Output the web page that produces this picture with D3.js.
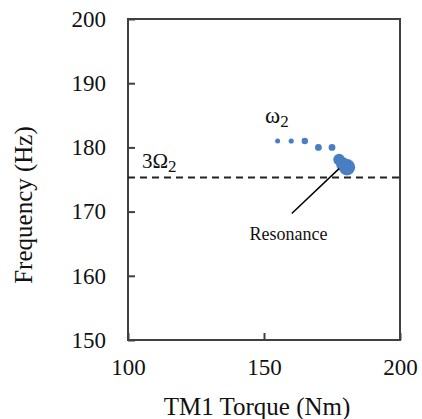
<!DOCTYPE html>
<html><head><meta charset="utf-8">
<script src="https://cdn.jsdelivr.net/npm/d3@7"></script>
<style>body{margin:0;background:#fff}svg{display:block}svg text{font-family:"Liberation Serif","DejaVu Serif",serif !important}</style>
</head><body>
<svg id="c" width="422" height="419"></svg>
<script>
const torque = [155, 160, 165, 170, 175, 177.6, 179, 180.5];
const freq = [181, 181, 181, 180, 180, 178.1, 177.4, 176.9];
const sizes = [2.5, 2.6, 3.2, 3.4, 3.4, 5.8, 6.8, 8.2];
const resonanceLine = 175.3;
const xTicks = [100, 150, 200];
const yTicks = [150, 160, 170, 180, 190, 200];
const arrowFrom = [160.2, 169.7];
const arrowTo = [177.6, 176.7];

const FONT = '"Liberation Serif","DejaVu Serif",serif';
const svg = d3.select("#c");
const m = {l:128, r:400, t:19, b:340};
const x = d3.scaleLinear().domain([100,200]).range([m.l, m.r]);
const y = d3.scaleLinear().domain([150,200]).range([m.b, m.t]);
const axisColor = "#404040";

const ya = svg.append("g").attr("transform",`translate(${m.l},0)`)
  .call(d3.axisLeft(y).tickValues(yTicks).tickSizeInner(-7).tickSizeOuter(0).tickPadding(22));
const xa = svg.append("g").attr("transform",`translate(0,${m.b})`)
  .call(d3.axisBottom(x).tickValues(xTicks).tickSizeInner(-7).tickSizeOuter(0).tickPadding(19));
[ya, xa].forEach(g=>{
  g.attr("font-family",FONT).attr("font-size",23);
  g.select(".domain").remove();
  g.selectAll(".tick line").attr("stroke",axisColor).attr("stroke-width",2);
  g.selectAll(".tick text").attr("fill","#111");
});
svg.append("rect").attr("x",m.l).attr("y",m.t).attr("width",m.r-m.l).attr("height",m.b-m.t)
  .attr("fill","none").attr("stroke",axisColor).attr("stroke-width",2);

svg.append("line").attr("x1",x(100)).attr("x2",x(200))
  .attr("y1",y(resonanceLine)).attr("y2",y(resonanceLine))
  .attr("stroke","#222").attr("stroke-width",2).attr("stroke-dasharray","7,5");

svg.append("g").selectAll("circle").data(torque).join("circle")
  .attr("cx",(d)=>x(d)).attr("cy",(d,i)=>y(freq[i])).attr("r",(d,i)=>sizes[i])
  .attr("fill","#4A7EC4");

svg.append("line").attr("x1",x(arrowFrom[0])).attr("y1",y(arrowFrom[1]))
  .attr("x2",x(arrowTo[0])).attr("y2",y(arrowTo[1]))
  .attr("stroke","#000").attr("stroke-width",1.5);

const T = (sel)=>sel.attr("font-family",FONT).attr("fill","#111");
const t1 = T(svg.append("text")).attr("x",142).attr("y",168).attr("font-size",21);
t1.append("tspan").text("3Ω");
t1.append("tspan").attr("font-size",17).attr("dy",4).text("2");
const t2 = T(svg.append("text")).attr("x",265).attr("y",123).attr("font-size",23);
t2.append("tspan").text("ω");
t2.append("tspan").attr("font-size",17).attr("dy",4).text("2");
T(svg.append("text")).attr("x",288.5).attr("y",240).attr("text-anchor","middle")
  .attr("font-size",18).text("Resonance");

T(svg.append("text")).attr("x",257).attr("y",415).attr("text-anchor","middle")
  .attr("font-size",25).text("TM1 Torque (Nm)");
T(svg.append("text")).attr("transform","translate(32,205) rotate(-90)").attr("text-anchor","middle")
  .attr("font-size",25).text("Frequency (Hz)");
</script>
</body></html>
